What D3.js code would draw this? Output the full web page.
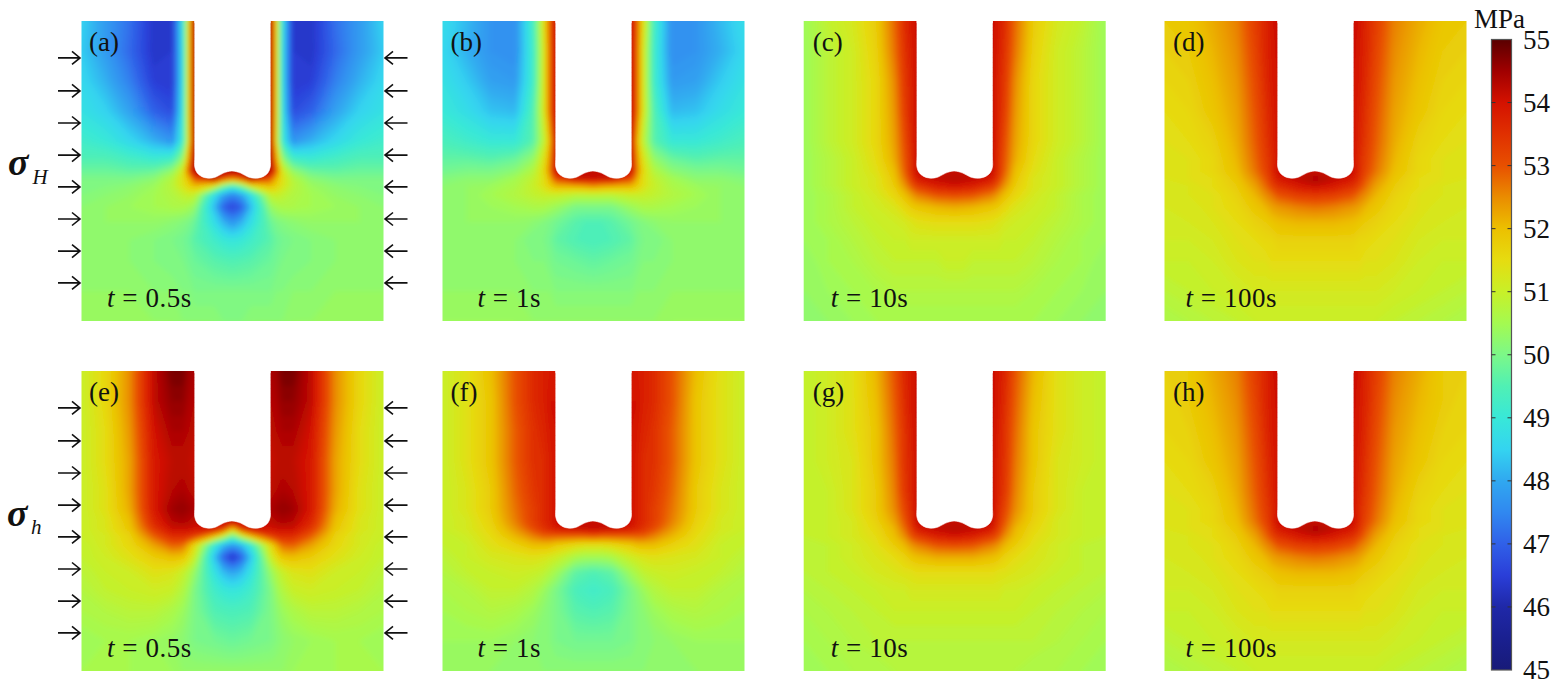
<!DOCTYPE html>
<html><head><meta charset="utf-8">
<script src="https://cdn.jsdelivr.net/npm/d3@7"></script>
<style>html,body{margin:0;background:#fff}svg{display:block}text{font-family:"Liberation Serif",serif;fill:#111}</style>
</head><body><svg id="c" width="1566" height="686"></svg>
<script>
// ---- data (MPa; left half + centre column, specimen is mirror symmetric) ----
const gridXmm=[0,0.8,1.6,2.4,3.0,3.35,3.55,3.75,4.4,4.7,5.0];
const gridYmm=[0,1,2,3,4,4.6,5.0,5.25,5.5,5.8,6.2,6.7,7.3,8,9,10];
const colorValues=[45,45.5,46,46.5,47,47.5,48,48.5,49,49.5,50,50.5,51,51.5,52,52.5,53,53.5,54,54.5,55];
const colorHex=["#181a78","#1a2090","#1f28a8","#2a3ed8","#3060e8","#3088f0","#30a8f0","#34d4f0","#38e8d8","#50f0b4","#7cf888","#a4fa50","#c8f028","#e6dc10","#ecc000","#ea8c00","#e85000","#e03000","#d41200","#a00000","#5a0000"];
const colorTicks=[45,46,47,48,49,50,51,52,53,54,55];
const panelLabels=["(a)","(b)","(c)","(d)","(e)","(f)","(g)","(h)"];
const timeLabels=["0.5s","1s","10s","100s"];
const arrowRowsMm=[1.23,2.33,3.4,4.47,5.53,6.6,7.67,8.73];
const notchOutlineMm=[[3.75,0],[3.75,2],[3.75,4.5],[3.75,4.87],[3.82,5.05],[3.97,5.18],[4.2,5.24],[4.45,5.2],[4.7,5.07],[4.98,5.0],[5.27,5.07],[5.52,5.2],[5.78,5.24],[6.03,5.18],[6.18,5.05],[6.25,4.87],[6.25,4.5],[6.25,2],[6.25,0]];
const fieldA=[
[48.5,47.8,47.2,46.3,46.4,48.9,51.6,54.4,54.4,54.4,54.4],
[48.4,47.8,47.1,46.3,46.4,48.8,51.6,54.4,54.4,54.4,54.4],
[48.6,48.1,47.4,46.5,46.4,48.8,51.6,54.4,54.4,54.4,54.4],
[48.8,48.5,47.9,47.0,46.7,48.9,51.6,54.4,54.4,54.4,54.4],
[49.2,49.0,48.6,48.1,47.7,49.1,51.4,54.4,54.4,54.4,54.4],
[49.5,49.5,49.3,49.1,49.3,50.3,52.3,54.4,54.4,54.4,54.4],
[49.8,49.8,49.7,49.8,50.3,51.2,53.0,54.4,54.4,54.4,54.4],
[50.0,50.0,50.0,50.2,50.7,51.4,52.1,53.1,54.3,53.2,52.6],
[50.0,50.1,50.2,50.4,50.8,51.3,51.7,52.0,51.2,50.0,49.3],
[50.1,50.2,50.3,50.5,50.7,50.9,51.0,50.9,48.7,47.9,47.5],
[50.2,50.3,50.4,50.5,50.6,50.6,50.5,50.3,48.2,47.0,46.6],
[50.2,50.3,50.3,50.3,50.2,50.1,50.0,49.8,48.7,48.1,47.7],
[50.2,50.2,50.2,50.1,50.0,49.9,49.8,49.6,49.2,49.0,48.9],
[50.2,50.2,50.2,50.1,50.0,50.0,49.9,49.8,49.6,49.55,49.5],
[50.3,50.3,50.3,50.2,50.2,50.1,50.1,50.0,50.0,50.0,50.0],
[50.4,50.3,50.3,50.3,50.3,50.2,50.2,50.2,50.2,50.1,50.1]];
const fieldB=[
[48.7,48.2,47.7,47.6,49.3,51.4,52.9,54.1,54.1,54.1,54.1],
[48.6,48.1,47.7,47.6,49.2,51.2,52.8,54.1,54.1,54.1,54.1],
[48.8,48.4,47.9,47.8,49.2,51.2,52.8,54.1,54.1,54.1,54.1],
[49.0,48.7,48.3,48.2,49.5,51.2,52.8,54.1,54.1,54.1,54.1],
[49.4,49.2,49.0,49.0,49.6,50.8,52.0,54.1,54.1,54.1,54.1],
[49.7,49.7,49.6,49.8,50.3,51.3,52.4,54.1,54.1,54.1,54.1],
[49.9,50.0,50.0,50.2,50.7,51.5,52.6,54.1,54.1,54.1,54.1],
[50.1,50.2,50.2,50.5,50.9,51.4,52.2,53.2,54.1,54.1,54.1],
[50.2,50.3,50.4,50.6,51.0,51.4,51.8,52.1,52.2,52.3,52.5],
[50.2,50.3,50.5,50.7,50.9,51.0,51.0,51.0,50.8,50.8,50.8],
[50.2,50.3,50.4,50.5,50.6,50.6,50.5,50.4,50.0,50.0,50.0],
[50.2,50.3,50.3,50.3,50.2,50.1,50.0,49.9,49.6,49.5,49.5],
[50.2,50.2,50.2,50.2,50.0,50.0,49.9,49.7,49.5,49.45,49.4],
[50.2,50.2,50.2,50.2,50.1,50.1,50.0,49.9,49.8,49.75,49.7],
[50.3,50.3,50.3,50.3,50.2,50.2,50.2,50.1,50.1,50.1,50.1],
[50.4,50.4,50.4,50.4,50.3,50.3,50.3,50.3,50.3,50.3,50.3]];
const fieldC=[
[50.4,50.9,51.2,51.8,52.8,53.6,53.9,54.1,54.1,54.1,54.1],
[50.4,50.8,51.1,51.7,52.7,53.5,53.8,54.1,54.1,54.1,54.1],
[50.4,50.8,51.1,51.6,52.5,53.4,53.7,54.1,54.1,54.1,54.1],
[50.4,50.8,51.1,51.6,52.4,53.3,53.7,54.1,54.1,54.1,54.1],
[50.4,50.8,51.1,51.6,52.3,53.1,53.6,54.1,54.1,54.1,54.1],
[50.4,50.7,51.0,51.5,52.2,53.0,53.5,54.1,54.1,54.1,54.1],
[50.4,50.7,51.0,51.4,52.0,52.9,53.5,54.1,54.1,54.1,54.1],
[50.4,50.7,51.0,51.3,51.9,52.7,53.3,53.9,54.2,54.25,54.3],
[50.4,50.7,51.0,51.3,51.8,52.4,52.9,53.3,53.8,53.9,54.0],
[50.4,50.6,50.9,51.2,51.6,52.0,52.3,52.6,53.0,53.05,53.1],
[50.4,50.6,50.9,51.1,51.3,51.6,51.8,51.9,52.1,52.15,52.2],
[50.4,50.6,50.8,51.0,51.1,51.2,51.3,51.4,51.5,51.5,51.5],
[50.4,50.5,50.7,50.9,51.0,51.0,51.1,51.1,51.1,51.1,51.1],
[50.3,50.5,50.6,50.8,50.9,50.9,50.9,50.9,50.9,51.0,51.0],
[50.3,50.4,50.5,50.6,50.7,50.7,50.7,50.7,50.7,50.7,50.7],
[50.2,50.3,50.4,50.5,50.5,50.5,50.5,50.5,50.5,50.5,50.5]];
const fieldD=[
[51.8,51.9,52.2,52.6,53.3,53.7,54.0,54.1,54.1,54.1,54.1],
[51.7,51.8,52.1,52.5,53.2,53.7,53.9,54.1,54.1,54.1,54.1],
[51.6,51.7,52.0,52.4,53.1,53.6,53.9,54.0,54.0,54.0,54.0],
[51.5,51.6,51.9,52.3,53.0,53.5,53.8,54.0,54.0,54.0,54.0],
[51.4,51.5,51.7,52.2,52.9,53.4,53.7,54.0,54.0,54.0,54.0],
[51.3,51.4,51.6,52.1,52.8,53.3,53.6,54.0,54.0,54.0,54.0],
[51.3,51.4,51.6,52.0,52.7,53.2,53.6,54.1,54.1,54.1,54.1],
[51.3,51.4,51.5,51.9,52.5,53.0,53.5,53.9,54.2,54.3,54.4],
[51.2,51.3,51.5,51.8,52.3,52.8,53.2,53.5,53.9,54.0,54.1],
[51.2,51.3,51.4,51.7,52.1,52.5,52.7,53.0,53.3,53.35,53.4],
[51.2,51.2,51.4,51.6,51.9,52.1,52.3,52.4,52.6,52.65,52.7],
[51.1,51.2,51.3,51.5,51.7,51.8,51.9,52.0,52.1,52.1,52.1],
[51.1,51.1,51.2,51.4,51.5,51.6,51.6,51.7,51.7,51.7,51.7],
[51.0,51.0,51.1,51.3,51.4,51.4,51.5,51.5,51.5,51.5,51.5],
[50.8,50.9,51.0,51.1,51.2,51.2,51.2,51.2,51.2,51.2,51.2],
[50.6,50.7,50.8,50.9,51.0,51.0,51.0,51.0,51.0,51.0,51.0]];
const fieldE=[
[51.0,51.6,52.5,54.2,54.8,54.8,54.5,54.4,54.4,54.4,54.4],
[51.0,51.6,52.5,54.2,54.6,54.6,54.4,54.3,54.3,54.3,54.3],
[51.0,51.5,52.4,54.0,54.4,54.4,54.3,54.2,54.2,54.2,54.2],
[51.0,51.5,52.3,53.9,54.2,54.2,54.2,54.1,54.1,54.1,54.1],
[51.0,51.4,52.3,53.9,54.3,54.4,54.3,54.2,54.2,54.2,54.2],
[51.0,51.4,52.2,53.9,54.5,54.6,54.5,54.4,54.4,54.4,54.4],
[51.0,51.3,52.0,53.7,54.3,54.4,54.3,54.2,54.2,54.2,54.2],
[51.0,51.3,51.9,53.4,54.1,54.1,54.1,54.0,54.0,53.5,52.0],
[51.0,51.2,51.7,52.9,53.6,53.6,53.5,53.3,52.0,51.0,49.8],
[50.9,51.2,51.6,52.3,52.9,52.8,52.2,51.5,49.0,48.2,47.8],
[50.9,51.1,51.4,51.8,52.0,51.9,51.5,51.0,48.3,47.0,46.3],
[50.8,51.0,51.1,51.4,51.3,51.0,50.7,50.3,48.8,48.2,47.9],
[50.7,50.9,51.0,51.1,51.0,50.7,50.4,50.0,49.2,49.0,48.9],
[50.6,50.7,50.8,50.8,50.6,50.4,50.2,50.0,49.5,49.45,49.4],
[50.4,50.5,50.5,50.4,50.3,50.2,50.1,50.0,49.9,49.85,49.8],
[50.5,50.5,50.5,50.4,50.4,50.3,50.3,50.3,50.3,50.3,50.3]];
const fieldF=[
[51.0,51.4,52.0,53.0,53.6,53.8,53.9,53.9,53.9,53.9,53.9],
[51.0,51.4,51.9,53.0,53.6,53.8,54.0,54.0,54.0,54.0,54.0],
[51.0,51.4,51.9,52.9,53.5,53.7,53.9,54.0,54.0,54.0,54.0],
[51.0,51.4,51.9,52.9,53.5,53.6,53.8,54.0,54.0,54.0,54.0],
[51.0,51.3,51.8,52.8,53.4,53.6,53.8,54.0,54.0,54.0,54.0],
[51.0,51.3,51.8,52.7,53.3,53.6,53.8,54.0,54.0,54.0,54.0],
[51.0,51.2,51.7,52.6,53.3,53.6,53.8,54.1,54.1,54.1,54.1],
[51.0,51.2,51.6,52.4,53.1,53.5,53.7,53.9,54.1,54.15,54.2],
[50.9,51.1,51.5,52.1,52.6,52.9,52.9,52.9,52.9,52.9,53.0],
[50.9,51.0,51.4,51.7,52.0,52.0,52.0,51.8,51.5,51.4,51.4],
[50.8,51.0,51.2,51.3,51.4,51.3,51.2,51.1,50.6,50.5,50.5],
[50.7,50.9,51.0,51.1,51.0,50.9,50.7,50.5,49.7,49.6,49.5],
[50.6,50.7,50.9,50.9,50.7,50.4,50.2,50.0,49.4,49.3,49.2],
[50.5,50.6,50.7,50.6,50.4,50.2,50.1,50.0,49.6,49.55,49.5],
[50.4,50.4,50.4,50.3,50.2,50.1,50.1,50.0,49.9,49.9,49.9],
[50.3,50.3,50.3,50.2,50.2,50.2,50.2,50.2,50.2,50.2,50.2]];
const fieldG=[
[50.9,51.1,51.4,52.1,53.0,53.7,53.9,54.1,54.1,54.1,54.1],
[50.9,51.1,51.4,52.0,52.9,53.6,53.9,54.1,54.1,54.1,54.1],
[50.9,51.1,51.4,51.9,52.8,53.5,53.8,54.1,54.1,54.1,54.1],
[50.9,51.1,51.3,51.9,52.7,53.5,53.7,54.1,54.1,54.1,54.1],
[50.9,51.0,51.3,51.8,52.6,53.4,53.7,54.1,54.1,54.1,54.1],
[50.9,51.0,51.3,51.8,52.5,53.2,53.6,54.1,54.1,54.1,54.1],
[50.9,51.0,51.2,51.7,52.3,53.0,53.5,54.1,54.1,54.1,54.1],
[50.9,51.0,51.2,51.6,52.1,52.8,53.3,53.9,54.2,54.25,54.3],
[50.9,51.0,51.2,51.5,52.0,52.5,53.0,53.3,53.8,53.9,54.0],
[50.8,50.9,51.1,51.4,51.8,52.1,52.4,52.6,53.0,53.05,53.1],
[50.8,50.9,51.1,51.3,51.5,51.7,51.9,52.0,52.2,52.2,52.2],
[50.8,50.9,51.0,51.2,51.3,51.4,51.4,51.5,51.5,51.5,51.5],
[50.7,50.8,50.9,51.0,51.1,51.1,51.2,51.2,51.2,51.2,51.2],
[50.6,50.7,50.8,50.9,51.0,51.0,51.0,51.0,51.0,51.0,51.0],
[50.5,50.6,50.7,50.8,50.8,50.8,50.8,50.8,50.8,50.8,50.8],
[50.4,50.5,50.6,50.6,50.7,50.7,50.7,50.7,50.7,50.7,50.7]];
const fieldH=[
[51.7,51.8,52.2,52.6,53.3,53.7,54.0,54.1,54.1,54.1,54.1],
[51.6,51.8,52.1,52.5,53.2,53.7,53.9,54.1,54.1,54.1,54.1],
[51.6,51.7,52.0,52.4,53.1,53.6,53.9,54.0,54.0,54.0,54.0],
[51.5,51.6,51.9,52.3,53.0,53.5,53.8,54.0,54.0,54.0,54.0],
[51.4,51.5,51.7,52.2,52.9,53.4,53.7,54.0,54.0,54.0,54.0],
[51.3,51.4,51.6,52.1,52.8,53.3,53.6,54.0,54.0,54.0,54.0],
[51.3,51.4,51.6,52.0,52.7,53.2,53.6,54.1,54.1,54.1,54.1],
[51.3,51.4,51.5,51.9,52.5,53.0,53.5,53.9,54.2,54.3,54.4],
[51.2,51.3,51.5,51.8,52.3,52.8,53.2,53.5,53.9,54.0,54.1],
[51.2,51.3,51.4,51.7,52.1,52.5,52.7,53.0,53.3,53.35,53.4],
[51.2,51.2,51.4,51.6,51.9,52.1,52.3,52.4,52.6,52.65,52.7],
[51.1,51.2,51.3,51.5,51.7,51.8,51.9,52.0,52.1,52.1,52.1],
[51.1,51.1,51.2,51.4,51.5,51.6,51.6,51.7,51.7,51.7,51.7],
[51.0,51.0,51.1,51.3,51.4,51.4,51.5,51.5,51.5,51.5,51.5],
[50.8,50.9,51.0,51.1,51.2,51.2,51.2,51.2,51.2,51.2,51.2],
[50.6,50.7,50.8,50.9,51.0,51.0,51.0,51.0,51.0,51.0,51.0]];
const fields=[fieldA,fieldB,fieldC,fieldD,fieldE,fieldF,fieldG,fieldH];

// ---- layout ----
const panelLeft=[81.5,442.5,803.7,1164.5], panelTop=[21,371], panelW=302, panelH=300;
const labelDx=[7.5,8,9,8.5], timeDx=[25.5,35,27,21];
const svg=d3.select("#c");
const defs=svg.append("defs");
defs.append("filter").attr("id","soft").attr("x","-10%").attr("y","-10%").attr("width","120%").attr("height","120%")
  .append("feGaussianBlur").attr("stdDeviation",2.4);
const color=d3.scaleLinear().domain(colorValues).range(colorHex).clamp(true);
const levels=d3.range(45,55,0.1);
const xsFull=[...gridXmm,...gridXmm.slice(0,-1).reverse().map(v=>10-v)];
const n=xsFull.length,m=gridYmm.length;
const contours=d3.contours().size([n,m]).thresholds(levels);
// grid index -> mm: d3.contours places the value of cell i at i+0.5; the outer half-cell runs past the panel edge and is clipped
const ix=d3.scaleLinear().domain([0,...d3.range(n).map(i=>i+.5),n]).range([-.6,...xsFull,10.6]);
const iy=d3.scaleLinear().domain([0,...d3.range(m).map(i=>i+.5),m]).range([-.6,...gridYmm,10.6]);

fields.forEach((field,k)=>{
  const col=k%4,row=Math.floor(k/4);
  const x=d3.scaleLinear().domain([0,10]).range([panelLeft[col],panelLeft[col]+panelW]);
  const y=d3.scaleLinear().domain([0,10]).range([panelTop[row],panelTop[row]+panelH]);
  const values=field.flatMap(r=>[...r,...r.slice(0,-1).reverse()]);
  defs.append("clipPath").attr("id","clip"+k).append("rect").attr("x",x(0)).attr("y",y(0)).attr("width",panelW).attr("height",panelH);
  const g=svg.append("g").attr("class","panel");
  const clip=g.append("g").attr("clip-path",`url(#clip${k})`);
  const soft=clip.append("g").attr("filter","url(#soft)");
  const path=d3.geoPath(d3.geoTransform({point(a,b){this.stream.point(x(ix(a)),y(iy(b)));}}));
  soft.append("rect").attr("x",x(-.6)).attr("y",y(-.6)).attr("width",x(10.6)-x(-.6)).attr("height",y(10.6)-y(-.6)).attr("fill",color(d3.min(values)));
  soft.selectAll("path.band").data(contours(values).filter(c=>c.coordinates.length)).join("path")
    .attr("class","band").attr("d",path).attr("fill",d=>color(d.value+.05));
  const line=d3.line().x(d=>x(d[0])).y(d=>y(d[1])).curve(d3.curveCatmullRom.alpha(.5));
  g.append("path").attr("d",line(notchOutlineMm)+"Z").attr("fill","#fff").attr("stroke","#fff").attr("stroke-width",.6);
  g.append("rect").attr("x",x(3.75)-.3).attr("y",y(0)-1).attr("width",x(6.25)-x(3.75)+.6).attr("height",3).attr("fill","#fff");
  g.append("text").attr("x",x(0)+labelDx[col]).attr("y",y(0)+29.5).attr("font-size",27).text(panelLabels[k]);
  const t=g.append("text").attr("x",x(0)+timeDx[col]).attr("y",y(0)+285.5).attr("font-size",27).attr("letter-spacing",.55).attr("xml:space","preserve");
  t.append("tspan").attr("font-style","italic").text("t");
  t.append("tspan").text(" = "+timeLabels[col]);
  if(col===0){
    [[x(0)-23.5,x(0)-1.5],[x(10)+24,x(10)+1.5]].forEach(([a,b])=>{
      const s=Math.sign(b-a);
      g.selectAll(null).data(arrowRowsMm).join("path")
       .attr("d",d=>`M${a},${y(d)}H${b}M${b-s*8},${y(d)-6.5}L${b},${y(d)}L${b-s*8},${y(d)+6.5}`)
       .attr("fill","none").attr("stroke","#111").attr("stroke-width",1.6);
    });
  }
});

// sigma labels
[["H",175,184,32.5],["h",526,534,31]].forEach(([s,by,sy,sx],i)=>{
  svg.append("text").attr("x",i?7:8).attr("y",by).attr("font-size",38).attr("font-weight","bold").attr("font-style","italic").text("σ");
  svg.append("text").attr("x",sx).attr("y",sy).attr("font-size",21).attr("font-style","italic").attr("fill","#333").text(s);
});

// colour bar
const cbY=d3.scaleLinear().domain([45,55]).range([670,39.5]);
const cbX=1491.5,cbW=20;
const grad=defs.append("linearGradient").attr("id","cb").attr("x1",0).attr("x2",0).attr("y1",1).attr("y2",0);
grad.selectAll("stop").data(colorValues).join("stop").attr("offset",d=>(d-45)/10).attr("stop-color",d=>color(d));
svg.append("rect").attr("x",cbX).attr("y",cbY(55)).attr("width",cbW).attr("height",cbY(45)-cbY(55)).attr("fill","url(#cb)").attr("stroke","#555").attr("stroke-width",1.2);
const marks=svg.append("g");
marks.selectAll("path").data(colorTicks.slice(1,-1)).join("path")
  .attr("d",d=>`M${cbX},${cbY(d)}h4M${cbX+cbW},${cbY(d)}h-4`).attr("stroke","#333").attr("stroke-width",1);
const axis=svg.append("g").attr("transform",`translate(${cbX+cbW+11.5},0)`).call(d3.axisRight(cbY).tickValues(colorTicks).tickSize(0).tickPadding(0));
axis.select(".domain").remove();
axis.selectAll("text").attr("font-size",27).attr("font-family",'"Liberation Serif",serif').attr("fill","#111");
svg.append("text").attr("x",1474).attr("y",28).attr("font-size",27).text("MPa");
</script></body></html>
